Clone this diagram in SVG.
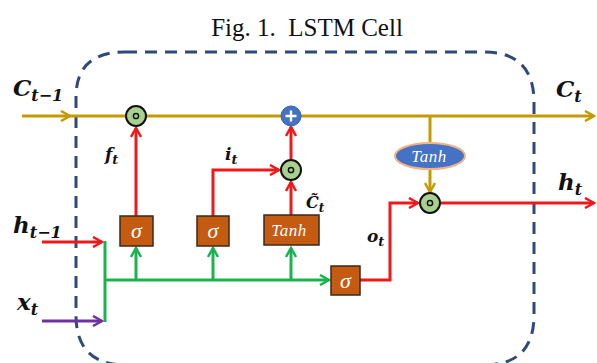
<svg xmlns="http://www.w3.org/2000/svg" width="597" height="363" viewBox="0 0 597 363">
<defs>
<style>
.gold{stroke:#C49A00;stroke-width:3;fill:none}
.red{stroke:#F01818;stroke-width:3;fill:none}
.green{stroke:#1DB250;stroke-width:3;fill:none}
.purple{stroke:#7030A0;stroke-width:3;fill:none}
.box{fill:#C55A11;stroke:#3A2A1A;stroke-width:1.5}
.mul{fill:#A9D18E;stroke:#111;stroke-width:2}
.lbl{font-family:"DejaVu Serif","Liberation Serif",serif;font-weight:bold;font-style:italic;fill:#111}
.gt{font-family:"Liberation Serif",serif;font-style:italic;fill:#fff}
</style>
<marker id="aGold" viewBox="0 0 12 12" refX="10" refY="6" markerWidth="12" markerHeight="12" markerUnits="userSpaceOnUse" orient="auto"><path d="M1,1 L10,6 L1,11" fill="none" stroke="#C49A00" stroke-width="2.5"/></marker>
<marker id="aRed" viewBox="0 0 12 12" refX="10" refY="6" markerWidth="12" markerHeight="12" markerUnits="userSpaceOnUse" orient="auto"><path d="M1,1 L10,6 L1,11" fill="none" stroke="#F01818" stroke-width="2.5"/></marker>
<marker id="aGreen" viewBox="0 0 12 12" refX="10" refY="6" markerWidth="12" markerHeight="12" markerUnits="userSpaceOnUse" orient="auto"><path d="M1,1 L10,6 L1,11" fill="none" stroke="#1DB250" stroke-width="2.5"/></marker>
<marker id="aPurple" viewBox="0 0 12 12" refX="10" refY="6" markerWidth="12" markerHeight="12" markerUnits="userSpaceOnUse" orient="auto"><path d="M1,1 L10,6 L1,11" fill="none" stroke="#7030A0" stroke-width="2.5"/></marker>
</defs>
<rect width="597" height="363" fill="#fff"/>
<text x="307" y="36" text-anchor="middle" font-family="Liberation Serif,serif" font-size="25" fill="#111" xml:space="preserve">Fig. 1.  LSTM Cell</text>
<g id="cell-boundary">
<path d="M125,52 L484,52 Q534,52 534,102 L534,315 Q534,365 484,365 L126,365 Q76,365 76,315 L76,97 Q76,52 125,52 Z" fill="none" stroke="#2F4A7A" stroke-width="3" stroke-dasharray="12,8"/>
</g>
<g id="connectors">
<path class="gold" d="M22,116 L70,116" marker-end="url(#aGold)"/>
<path class="gold" d="M70,116 L126,116 M146,116 L281,116 M301,116 L594,116" marker-end="url(#aGold)"/>
<path class="gold" d="M430,116 L430,143"/>
<path class="gold" d="M430,169 L430,192" marker-end="url(#aGold)"/>
<path class="red" d="M42,242 L102,242" marker-end="url(#aRed)"/>
<path class="purple" d="M42,321 L102,321" marker-end="url(#aPurple)"/>
<path class="green" d="M105,241 L105,322 M105,280 L329,280" marker-end="url(#aGreen)"/>
<path class="green" d="M136,280 L136,248" marker-end="url(#aGreen)"/>
<path class="green" d="M213,280 L213,248" marker-end="url(#aGreen)"/>
<path class="green" d="M291,280 L291,248" marker-end="url(#aGreen)"/>
<path class="red" d="M136,216 L136,128" marker-end="url(#aRed)"/>
<path class="red" d="M213,216 L213,170 L279,170" marker-end="url(#aRed)"/>
<path class="red" d="M291,216 L291,182" marker-end="url(#aRed)"/>
<path class="red" d="M291,159 L291,127" marker-end="url(#aRed)"/>
<path class="red" d="M360,280 L390,280 L390,203 L418,203" marker-end="url(#aRed)"/>
<path class="red" d="M441,203 L594,203" marker-end="url(#aRed)"/>
</g>
<g id="forget-mul"><circle class="mul" cx="136" cy="116" r="10"/><circle cx="136" cy="116" r="2.6" fill="none" stroke="#111" stroke-width="1.5"/></g>
<g id="add"><circle cx="291" cy="116" r="10" fill="#4472C4" stroke="#3A5FA0" stroke-width="1"/><path d="M285.5,116 H296.5 M291,110.5 V121.5" stroke="#fff" stroke-width="2.4"/></g>
<g id="input-mul"><circle class="mul" cx="291" cy="170" r="10"/><circle cx="291" cy="170" r="2.6" fill="none" stroke="#111" stroke-width="1.5"/></g>
<g id="output-mul"><circle class="mul" cx="430" cy="203" r="10"/><circle cx="430" cy="203" r="2.6" fill="none" stroke="#111" stroke-width="1.5"/></g>
<g id="tanh-cell"><ellipse cx="430" cy="156" rx="35" ry="13" fill="#4472C4" stroke="#F4B183" stroke-width="2"/><text class="gt" x="429" y="162" text-anchor="middle" font-size="17" letter-spacing="0.5">Tanh</text></g>
<g id="sigma-f"><rect class="box" x="120" y="216" width="33" height="30"/><text class="gt" x="136.5" y="238" text-anchor="middle" font-size="22">σ</text></g>
<g id="sigma-i"><rect class="box" x="197" y="216" width="32" height="30"/><text class="gt" x="213" y="238" text-anchor="middle" font-size="22">σ</text></g>
<g id="tanh-gate"><rect class="box" x="264" y="215" width="55" height="30"/><text class="gt" x="289" y="236" text-anchor="middle" font-size="17" letter-spacing="0.5">Tanh</text></g>
<g id="sigma-o"><rect class="box" x="331" y="266" width="29" height="29"/><text class="gt" x="345.5" y="288" text-anchor="middle" font-size="22">σ</text></g>
<g id="labels">
<text class="lbl" x="13" y="96" font-size="23">C<tspan font-size="16" dy="5">t−1</tspan></text>
<text class="lbl" x="556" y="97" font-size="23">C<tspan font-size="16" dy="5">t</tspan></text>
<text class="lbl" x="13" y="233" font-size="23">h<tspan font-size="16" dy="5">t−1</tspan></text>
<text class="lbl" x="558" y="190" font-size="23">h<tspan font-size="16" dy="5">t</tspan></text>
<text class="lbl" x="17" y="310" font-size="23">x<tspan font-size="16" dy="5">t</tspan></text>
<text class="lbl" x="105" y="160" font-size="17">f<tspan font-size="13" dy="4">t</tspan></text>
<text class="lbl" x="225" y="160" font-size="17">i<tspan font-size="13" dy="4">t</tspan></text>
<text class="lbl" x="367" y="242" font-size="17">o<tspan font-size="13" dy="4">t</tspan></text>
<text class="lbl" x="306" y="208" font-size="16">C̃<tspan font-size="12" dy="4">t</tspan></text>
</g>
</svg>
